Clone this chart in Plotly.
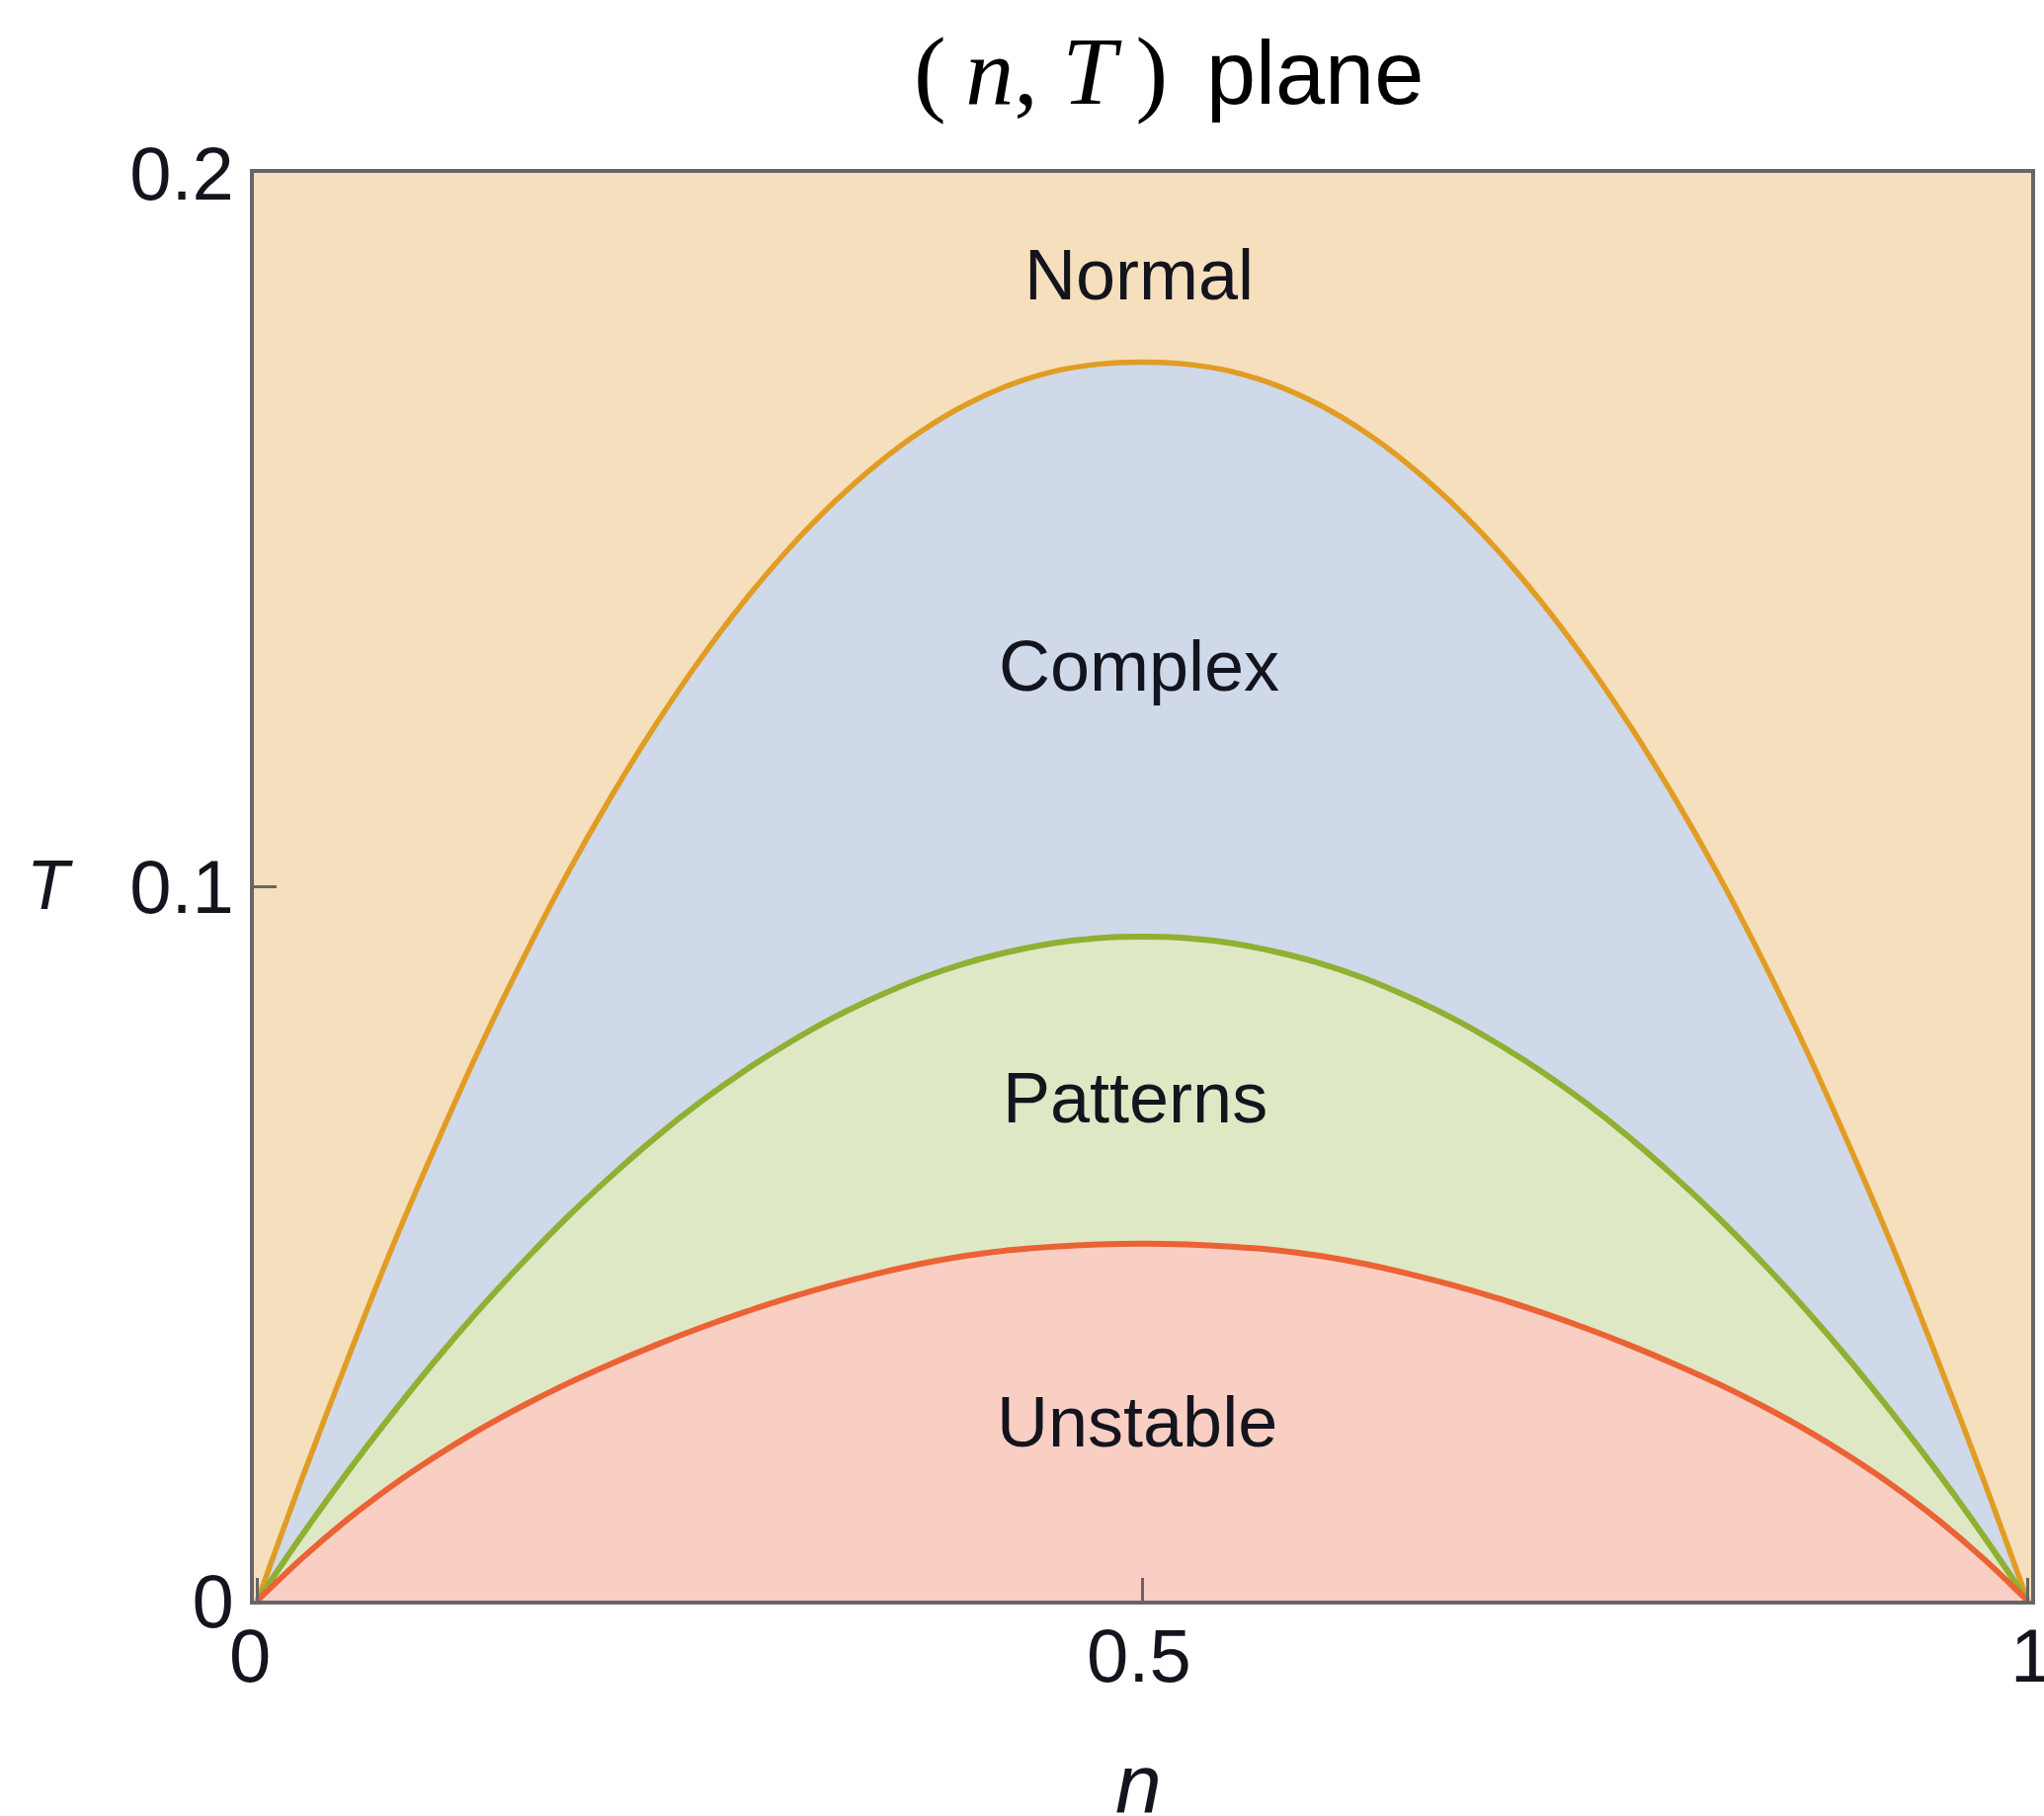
import plotly.graph_objects as go

# Filling fraction n (shared grid for all three boundaries)
n_vals = [0.000, 0.025, 0.050, 0.075, 0.100, 0.125, 0.150, 0.175, 0.200, 0.225,
          0.250, 0.275, 0.300, 0.325, 0.350, 0.375, 0.400, 0.425, 0.450, 0.475,
          0.500, 0.525, 0.550, 0.575, 0.600, 0.625, 0.650, 0.675, 0.700, 0.725,
          0.750, 0.775, 0.800, 0.825, 0.850, 0.875, 0.900, 0.925, 0.950, 0.975,
          1.000]

# Normal / Complex boundary
T_normal = [0.0000, 0.0170, 0.0332, 0.0488, 0.0633, 0.0771, 0.0899, 0.1018, 0.1127, 0.1227,
            0.1318, 0.1400, 0.1473, 0.1537, 0.1592, 0.1638, 0.1675, 0.1703, 0.1722, 0.1732,
            0.1735, 0.1732, 0.1722, 0.1703, 0.1675, 0.1638, 0.1592, 0.1537, 0.1473, 0.1400,
            0.1318, 0.1227, 0.1127, 0.1018, 0.0899, 0.0771, 0.0633, 0.0488, 0.0332, 0.0170,
            0.0000]

# Complex / Patterns boundary
T_complex = [0.0000, 0.0091, 0.0177, 0.0258, 0.0335, 0.0407, 0.0474, 0.0537, 0.0595, 0.0649,
             0.0698, 0.0742, 0.0781, 0.0816, 0.0846, 0.0872, 0.0893, 0.0909, 0.0921, 0.0928,
             0.0930, 0.0928, 0.0921, 0.0909, 0.0893, 0.0872, 0.0846, 0.0816, 0.0781, 0.0742,
             0.0698, 0.0649, 0.0595, 0.0537, 0.0474, 0.0407, 0.0335, 0.0258, 0.0177, 0.0091,
             0.0000]

# Patterns / Unstable boundary
T_patterns = [0.0000, 0.0059, 0.0112, 0.0159, 0.0201, 0.0239, 0.0273, 0.0304, 0.0332, 0.0358,
              0.0382, 0.0404, 0.0424, 0.0442, 0.0458, 0.0472, 0.0483, 0.0491, 0.0496, 0.0499,
              0.0500, 0.0499, 0.0496, 0.0491, 0.0483, 0.0472, 0.0458, 0.0442, 0.0424, 0.0404,
              0.0382, 0.0358, 0.0332, 0.0304, 0.0273, 0.0239, 0.0201, 0.0159, 0.0112, 0.0059,
              0.0000]

# Region names with their label anchor points (n, T)
region_names = ["Normal", "Complex", "Patterns", "Unstable"]
region_n = [0.498, 0.498, 0.496, 0.497]
region_T = [0.1858, 0.1310, 0.0705, 0.0250]

x_ticks = [0, 0.5, 1]
x_ticktext = ["0", "0.5", "1"]
y_ticks = [0, 0.1, 0.2]
y_ticktext = ["0", "0.1", "0.2"]

# Colours
bg_normal = "#F5DFBC"
fill_complex = "#CFD9E9"
fill_patterns = "#DFE8C4"
fill_unstable = "#F9CFC3"
line_orange = "#E19C24"
line_green = "#8FB032"
line_red = "#EB6235"
frame_gray = "#666666"
text_col = "#14141E"

sans = "Liberation Sans, Arial, sans-serif"
serif = "Liberation Serif, Times New Roman, serif"

fig = go.Figure()

# Filled regions (each boundary filled down to T = 0, painted from top to bottom)
for ys, col in [(T_normal, fill_complex), (T_complex, fill_patterns), (T_patterns, fill_unstable)]:
    fig.add_trace(go.Scatter(x=n_vals, y=ys, mode="lines", fill="tozeroy",
                             fillcolor=col, line=dict(width=0, shape="spline", smoothing=0.8),
                             hoverinfo="skip", showlegend=False))

# Boundary curves
for ys, col, w in [(T_normal, line_orange, 5.5), (T_complex, line_green, 6), (T_patterns, line_red, 6)]:
    fig.add_trace(go.Scatter(x=n_vals, y=ys, mode="lines",
                             line=dict(color=col, width=w, shape="spline", smoothing=0.8),
                             hoverinfo="skip", showlegend=False))

# Region labels
for name, xn, yt in zip(region_names, region_n, region_T):
    fig.add_annotation(x=xn, y=yt, xref="x", yref="y", text=name, showarrow=False,
                       font=dict(family=sans, size=72, color=text_col),
                       xanchor="center", yanchor="middle")

# n-axis tick labels, placed on the data scale just below the frame
for xv, lab, dx in zip(x_ticks, x_ticktext, [-8, -4, 4]):
    fig.add_annotation(x=xv, y=-0.0075, xref="x", yref="paper", text=lab, showarrow=False,
                       xshift=dx, font=dict(family=sans, size=76, color=text_col),
                       xanchor="center", yanchor="top")

# Title: "(n, T)" in serif italics, "plane" in sans
fig.add_annotation(x=0.370, y=1.071, xref="paper", yref="paper",
                   text="(\u2009<i>n</i>, <i>T</i>\u2009)", showarrow=False,
                   font=dict(family=serif, size=98, color="#000000"),
                   xanchor="left", yanchor="middle")
fig.add_annotation(x=0.535, y=1.070, xref="paper", yref="paper",
                   text="plane", showarrow=False,
                   font=dict(family=sans, size=90, color="#000000"),
                   xanchor="left", yanchor="middle")

# Axis labels
fig.add_annotation(x=-0.115, y=0.501, xref="paper", yref="paper", text="<i>T</i>",
                   showarrow=False, font=dict(family=sans, size=70, color=text_col),
                   xanchor="center", yanchor="middle")
fig.add_annotation(x=0.4975, y=-0.094, xref="paper", yref="paper", text="<i>n</i>",
                   showarrow=False, font=dict(family=sans, size=84, color=text_col),
                   xanchor="center", yanchor="top")

axis_common = dict(showgrid=False, zeroline=False, showline=True, mirror=True,
                   linecolor=frame_gray, linewidth=4, ticks="inside", ticklen=23,
                   tickwidth=3, tickcolor=frame_gray)

fig.update_xaxes(range=[-0.002, 1.002], tickvals=x_ticks, showticklabels=False,
                 **axis_common)
fig.update_yaxes(range=[0, 0.2], tickvals=y_ticks, ticktext=y_ticktext,
                 ticklabelstandoff=1,
                 tickfont=dict(family=sans, size=76, color=text_col),
                 **axis_common)

fig.update_layout(width=2069, height=1838,
                  margin=dict(l=257, r=9, t=175, b=218, pad=0),
                  plot_bgcolor=bg_normal, paper_bgcolor="#FFFFFF",
                  showlegend=False)

fig.write_html("out.html")
